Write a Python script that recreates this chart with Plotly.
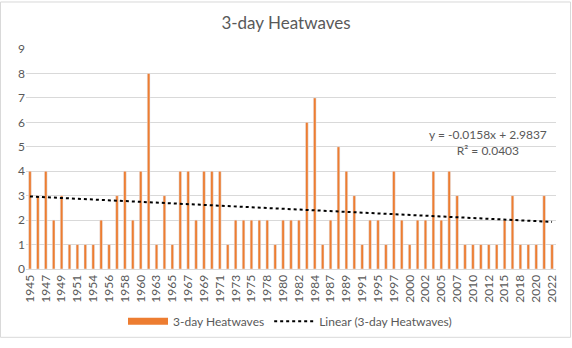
import numpy as np
import plotly.graph_objects as go

years = [1945, 1946, 1947, 1948, 1949, 1950, 1951, 1953, 1954, 1955,
         1956, 1957, 1958, 1959, 1960, 1961, 1963, 1964, 1965, 1966,
         1967, 1968, 1969, 1970, 1971, 1972, 1973, 1974, 1975, 1977,
         1978, 1979, 1980, 1981, 1982, 1983, 1984, 1986, 1987, 1988,
         1989, 1990, 1991, 1994, 1995, 1996, 1997, 1998, 2000, 2001,
         2002, 2004, 2005, 2006, 2007, 2009, 2010, 2011, 2012, 2014,
         2015, 2017, 2018, 2019, 2020, 2021, 2022]
heatwaves = [4, 3, 4, 2, 3, 1, 1, 1, 1, 2,
             1, 3, 4, 2, 4, 8, 1, 3, 1, 4,
             4, 2, 4, 4, 4, 1, 2, 2, 2, 2,
             2, 1, 2, 2, 2, 6, 7, 1, 2, 5,
             4, 3, 1, 2, 2, 1, 4, 2, 1, 2,
             2, 4, 2, 4, 3, 1, 1, 1, 1, 1,
             2, 3, 1, 1, 1, 3, 1]
series_name = "3-day Heatwaves"
trend_name = "Linear (3-day Heatwaves)"
trend_text = "y = -0.0158x + 2.9837<br>R² = 0.0403"

cats = [str(y) for y in years]
idx = np.arange(1, len(heatwaves) + 1)
slope, intercept = np.polyfit(idx, heatwaves, 1)
trend = slope * idx + intercept

GRAY = "#595959"
ORANGE = "#ED7D31"
FONT = "Lato"

# plot area in pixels
W, H = 572, 348
L, R, T, B = 26, 16, 49, 72
pw, ph = W - L - R, H - T - B

def px(x):
    return (x - L) / pw

def py(y):
    return (H - B - y) / ph

fig = go.Figure()
fig.add_trace(go.Bar(x=cats, y=heatwaves, name=series_name, marker_color=ORANGE,
                     showlegend=False))
fig.add_trace(go.Scatter(x=[None], y=[None], mode="lines", name=series_name,
                         line=dict(color=ORANGE, width=7)))
fig.add_trace(go.Scatter(x=cats, y=trend, mode="lines", name=trend_name,
                         line=dict(color="#000000", width=2, dash="dot")))

fig.update_layout(
    width=W, height=H,
    margin=dict(l=L, r=R, t=T, b=B),
    paper_bgcolor="white", plot_bgcolor="white",
    bargap=0.66,
    font=dict(family=FONT, color=GRAY, size=12),
    title=dict(text="3-day Heatwaves", x=0.5, xanchor="center", y=1 - 23 / H,
               yanchor="middle", font=dict(size=17, color=GRAY, family=FONT)),
    xaxis=dict(type="category", tickmode="array", tickvals=cats[::2], ticktext=cats[::2],
               tickangle=-90, showgrid=False, showline=True, linecolor="#d9d9d9",
               ticks="", tickfont=dict(size=12, color=GRAY)),
    yaxis=dict(range=[0, 9], dtick=1, showgrid=True, gridcolor="#d9d9d9", zeroline=False,
               ticks="", tickfont=dict(size=12, color=GRAY), showline=False),
    legend=dict(orientation="h", x=px(290), xanchor="center", y=py(330), yanchor="middle",
                font=dict(size=12, color=GRAY), itemwidth=40),
    annotations=[dict(text=trend_text, xref="paper", yref="paper", x=px(488), y=py(145),
                      xanchor="center", yanchor="middle", showarrow=False,
                      font=dict(size=12, color=GRAY))],
    shapes=[dict(type="rect", xref="paper", yref="paper",
                 x0=px(0.5), x1=px(570.5), y0=py(346.5), y1=py(0.5),
                 line=dict(color="#d9d9d9", width=1), layer="below")],
)

fig.write_html("out.html")
